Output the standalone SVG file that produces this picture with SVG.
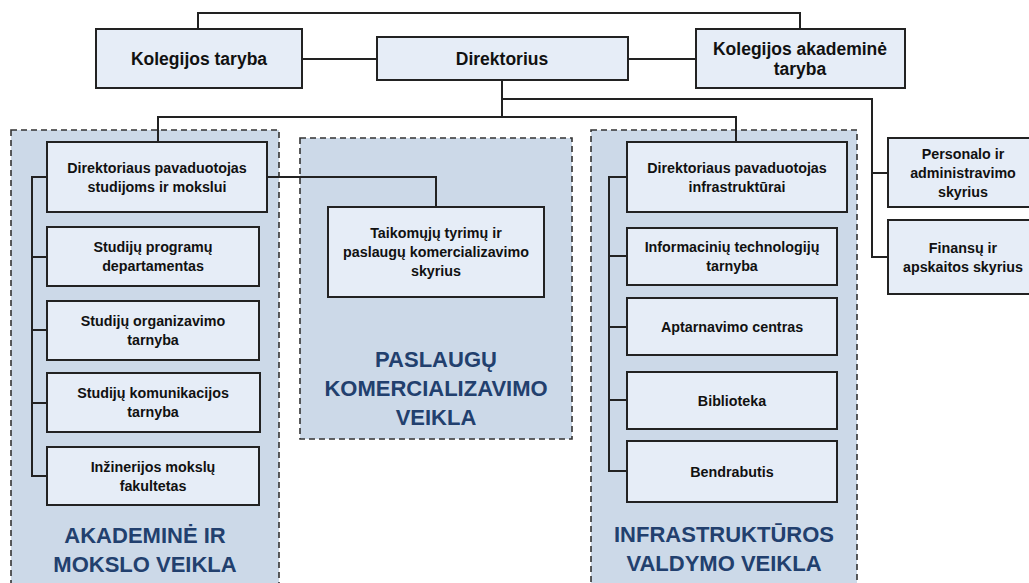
<svg xmlns="http://www.w3.org/2000/svg" width="1029" height="583" viewBox="0 0 1029 583">
<style>
.grp{fill:#ccd9e8;stroke:#333;stroke-width:1.6;stroke-dasharray:6 4}
.box{fill:#e6edf7;stroke:#222;stroke-width:2}
.con{fill:none;stroke:#222;stroke-width:2}
.t{font-family:"Liberation Sans",Arial,sans-serif;font-weight:bold;font-size:14.3px;fill:#111;text-anchor:middle}
.tl{font-family:"Liberation Sans",Arial,sans-serif;font-weight:bold;font-size:17.5px;fill:#111;text-anchor:middle}
.ti{font-family:"Liberation Sans",Arial,sans-serif;font-weight:bold;font-size:22px;fill:#22406e;text-anchor:middle}
</style>
<rect width="1029" height="583" fill="#fff"/>
<g id="grp-akademine">
<rect class="grp" x="11" y="130" width="268" height="470"/>
<text class="ti" x="145" y="543">AKADEMINĖ IR</text>
<text class="ti" x="145" y="572">MOKSLO VEIKLA</text>
</g>
<g id="grp-paslaugu">
<rect class="grp" x="300" y="138" width="272" height="301"/>
<text class="ti" x="436" y="367">PASLAUGŲ</text>
<text class="ti" x="436" y="396">KOMERCIALIZAVIMO</text>
<text class="ti" x="436" y="425">VEIKLA</text>
</g>
<g id="grp-infra">
<rect class="grp" x="591" y="130" width="266" height="470"/>
<text class="ti" x="724" y="542">INFRASTRUKTŪROS</text>
<text class="ti" x="724" y="571">VALDYMO VEIKLA</text>
</g>
<g id="connectors">
<path class="con" d="M198,29 V13 H800 V29"/>
<path class="con" d="M302,59 H377"/>
<path class="con" d="M628,59 H696"/>
<path class="con" d="M502,80 V117"/>
<path class="con" d="M158,142 V117 H736 V142"/>
<path class="con" d="M502,99 H872 V257 H888"/>
<path class="con" d="M872,173 H888"/>
<path class="con" d="M47,177 H32 V476 H47"/>
<path class="con" d="M32,257 H47 M32,330 H47 M32,403 H47"/>
<path class="con" d="M267,177 H436 V207"/>
<path class="con" d="M627,177 H609 V471 H627"/>
<path class="con" d="M609,256 H627 M609,327 H627 M609,400 H627"/>
</g>
<g id="kolegijos-taryba">
<rect class="box" x="96" y="29" width="206" height="59"/>
<text class="tl" x="199" y="65">Kolegijos taryba</text>
</g>
<g id="direktorius">
<rect class="box" x="377" y="37" width="251" height="43"/>
<text class="tl" x="502" y="65">Direktorius</text>
</g>
<g id="kolegijos-akademine-taryba">
<rect class="box" x="696" y="29" width="209" height="59"/>
<text class="tl" x="800" y="54.5">Kolegijos akademinė</text>
<text class="tl" x="800" y="74.5">taryba</text>
</g>
<g id="dir-pav-studijoms">
<rect class="box" x="47" y="142" width="220" height="70"/>
<text class="t" x="157" y="172.5">Direktoriaus pavaduotojas</text>
<text class="t" x="157" y="191.5">studijoms ir mokslui</text>
</g>
<g id="studiju-programu">
<rect class="box" x="47" y="227" width="212" height="59"/>
<text class="t" x="153" y="252">Studijų programų</text>
<text class="t" x="153" y="271">departamentas</text>
</g>
<g id="studiju-organizavimo">
<rect class="box" x="47" y="301" width="212" height="59"/>
<text class="t" x="153" y="326">Studijų organizavimo</text>
<text class="t" x="153" y="345">tarnyba</text>
</g>
<g id="studiju-komunikacijos">
<rect class="box" x="47" y="373" width="213" height="59"/>
<text class="t" x="153" y="398">Studijų komunikacijos</text>
<text class="t" x="153" y="417">tarnyba</text>
</g>
<g id="inzinerijos">
<rect class="box" x="47" y="447" width="212" height="58"/>
<text class="t" x="153" y="471.5">Inžinerijos mokslų</text>
<text class="t" x="153" y="490.5">fakultetas</text>
</g>
<g id="taikomuju">
<rect class="box" x="328" y="207" width="216" height="90"/>
<text class="t" x="436" y="238">Taikomųjų tyrimų ir</text>
<text class="t" x="436" y="257">paslaugų komercializavimo</text>
<text class="t" x="436" y="276">skyrius</text>
</g>
<g id="dir-pav-infra">
<rect class="box" x="627" y="142" width="220" height="70"/>
<text class="t" x="737" y="172.5">Direktoriaus pavaduotojas</text>
<text class="t" x="737" y="191.5">infrastruktūrai</text>
</g>
<g id="it-tarnyba">
<rect class="box" x="627" y="228" width="210" height="57"/>
<text class="t" x="732" y="252">Informacinių technologijų</text>
<text class="t" x="732" y="271">tarnyba</text>
</g>
<g id="aptarnavimo">
<rect class="box" x="627" y="298" width="210" height="57"/>
<text class="t" x="732" y="331.5">Aptarnavimo centras</text>
</g>
<g id="biblioteka">
<rect class="box" x="627" y="372" width="210" height="57"/>
<text class="t" x="732" y="405.5">Biblioteka</text>
</g>
<g id="bendrabutis">
<rect class="box" x="627" y="441" width="210" height="61"/>
<text class="t" x="732" y="476.5">Bendrabutis</text>
</g>
<g id="personalo">
<rect class="box" x="888" y="138" width="152" height="69"/>
<text class="t" x="963" y="158.5">Personalo ir</text>
<text class="t" x="963" y="177.5">administravimo</text>
<text class="t" x="963" y="196.5">skyrius</text>
</g>
<g id="finansu">
<rect class="box" x="888" y="220" width="152" height="74"/>
<text class="t" x="963" y="252.5">Finansų ir</text>
<text class="t" x="963" y="271.5">apskaitos skyrius</text>
</g>
</svg>
